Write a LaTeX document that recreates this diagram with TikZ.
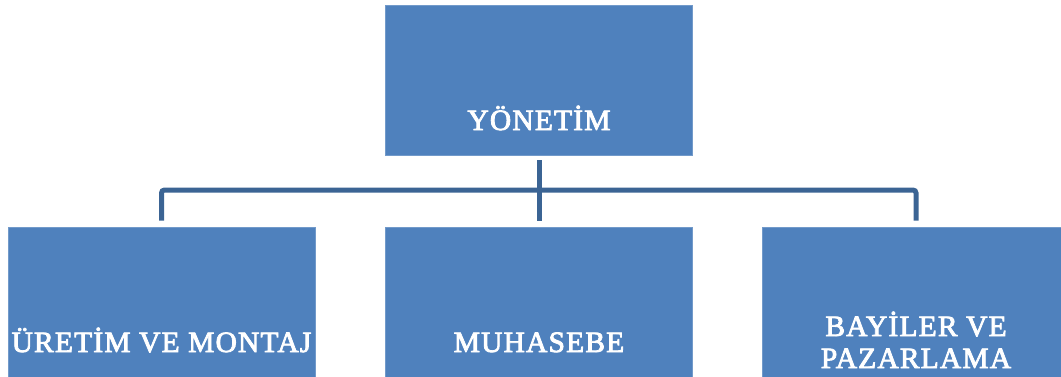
\documentclass[tikz,border=0pt]{standalone}
\usepackage{fontspec}
\newfontfamily\tnr{Liberation Serif}[FakeBold=2.8,LetterSpace=4]
\begin{document}
\begin{tikzpicture}[x=1pt,y=1pt,
  box/.style={rectangle, fill=boxblue, draw=boxblue!80!white, line width=0.6pt, minimum width=307pt, minimum height=150pt, inner sep=0pt},
  lbl/.style={text=white, font=\tnr\fontsize{29.5}{32}\selectfont, anchor=base, align=center, inner sep=0pt},
  conn/.style={draw=connblue, line width=5pt, rounded corners=3pt}]
\definecolor{boxblue}{HTML}{4F81BD}
\definecolor{connblue}{HTML}{3B6494}
\useasboundingbox (0,0) rectangle (1061,-376);
\node[box] (top) at (539,-80) {};
\node[box] (left) at (161.5,-302) {};
\node[box] (mid) at (539,-302) {};
\node[box] (right) at (916,-302) {};
\node[lbl] (ttop) at (539,-130) {YÖNETİM};
\node[lbl] (tleft) at (161.5,-352) {ÜRETİM VE MONTAJ};
\node[lbl] (tmid) at (539,-352) {MUHASEBE};
\node[lbl] (tright) at (916,-368) {BAYİLER VE\\PAZARLAMA};
\coordinate (bus) at (539,-190);
\draw[conn] ([yshift=-5pt]top.south) -- ([yshift=6pt]mid.north);
\draw[conn] ([yshift=6pt]left.north) |- (bus) -| ([yshift=6pt]right.north);
\end{tikzpicture}
\end{document}
